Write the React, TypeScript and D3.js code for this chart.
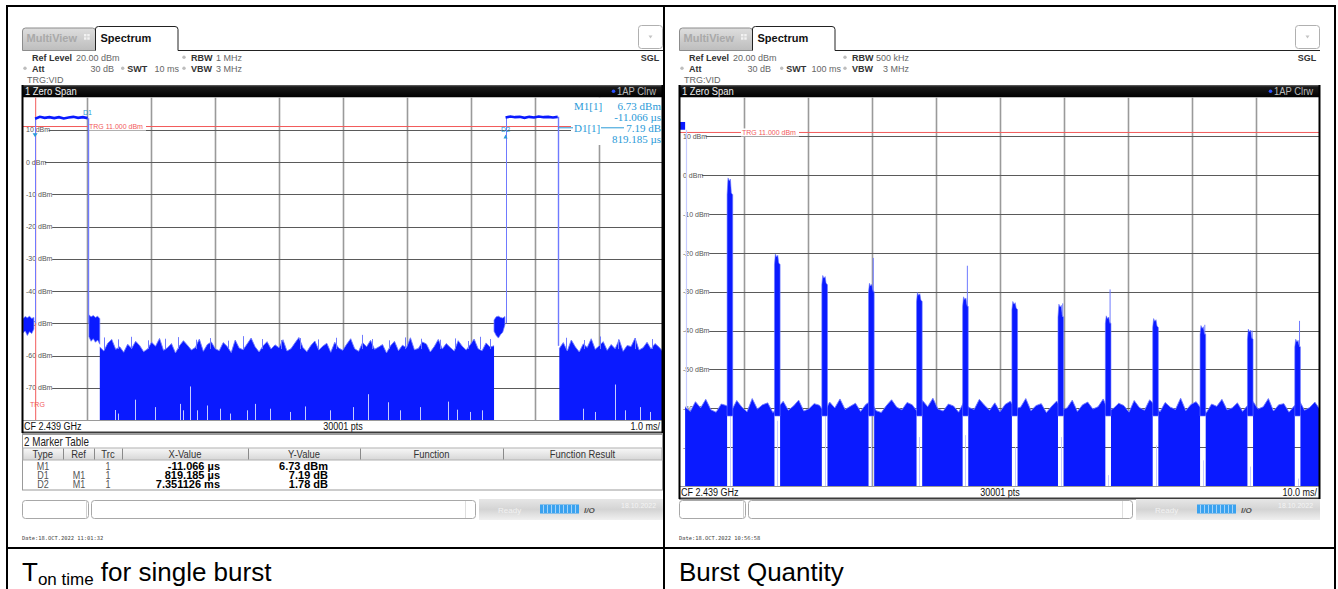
import React from 'react';
import * as d3 from 'd3';

// ---------------- shared axis data ----------------
const Y_DOMAIN: [number, number] = [-80, 20];
const Y_TICKS = [10, 0, -10, -20, -30, -40, -50, -60, -70];
const GRID_DIVS = 10;
const TRG_LEVEL = 11;

// ---------------- left screen: T on time ----------------
const L_X_DOMAIN: [number, number] = [-0.2, 9.8]; // ms, 1.0 ms/div
const L_BURST_START = [-0.011, 7.34];
const L_BURST_END = [0.81, 8.155];
const L_BURST_LEVELS = [
  [13.4, 14.0, 13.7, 13.9, 13.6, 13.9, 13.5, 13.8, 14.0, 13.7, 13.9, 13.6],
  [13.8, 14.1, 13.9, 14.0, 13.7, 14.0, 13.8, 14.1, 13.9, 14.0, 13.8, 14.0],
];
const L_RISE_FLOOR = [-50, -50];
const L_FALL_FLOOR = [-50, -57];
const L_BLOB_START = [-0.2, 0.83, 7.16];
const L_BLOB_END = [-0.03, 1.0, 7.33];
const L_BLOB_TOP = [
  [-48.6, -47.9, -48.3, -47.8, -48.5, -48.2],
  [-47.4, -48.0, -47.6, -48.2, -47.8, -48.6],
  [-49.0, -48.0, -47.8, -48.2, -48.4, -47.9],
];
const L_BLOB_BOTTOM = [
  [-53.0, -52.4, -53.8, -52.6, -53.2, -51.8],
  [-54.2, -55.6, -54.8, -55.9, -55.2, -56.5],
  [-52.5, -53.8, -54.6, -53.5, -52.8, -50.5],
];
const L_NOISE_A_SPAN = [1.0, 7.16];
const L_NOISE_A = [
  -57.4, -58.6, -56.2, -55.0, -58.1, -57.3, -59.0, -56.5, -57.8, -55.6,
  -56.9, -58.8, -58.0, -55.9, -57.1, -54.7, -58.4, -57.6, -56.3, -59.2,
  -57.0, -55.4, -56.8, -58.3, -57.5, -54.9, -58.7, -56.6, -55.8, -57.9,
  -58.5, -56.0, -57.2, -59.1, -55.2, -57.7, -58.2, -56.4, -54.6, -57.3,
  -58.9, -57.0, -55.7, -58.0, -56.7, -57.6, -55.1, -58.6, -57.9, -56.1,
  -54.4, -57.5, -58.8, -56.9, -55.5, -58.3, -57.1, -56.2, -59.0, -55.9,
  -57.7, -58.4, -56.5, -54.8, -57.9, -58.7, -56.0, -57.3, -55.3, -58.1,
  -57.4, -56.6, -59.2, -57.0, -55.6, -58.5, -56.8, -57.6, -54.5, -58.2,
  -57.8, -55.8, -56.4, -58.9, -57.2, -55.0, -58.0, -56.3, -57.5, -58.6,
  -55.4, -57.1, -58.3, -56.7, -54.9, -57.9, -58.5, -56.1, -57.4, -57.0,
];
const L_NOISE_B_SPAN = [8.18, 9.8];
const L_NOISE_B = [
  -57.8, -56.0, -58.6, -55.2, -57.3, -58.9, -56.4, -57.5, -54.8, -58.1,
  -57.0, -55.7, -58.4, -56.6, -57.9, -55.1, -58.7, -56.9, -57.2, -54.6,
  -58.3, -57.6, -55.9, -58.0, -56.3, -57.4, -58.8,
];
// light single-sample peaks rising out of the noise floor
const L_HAIR_T = [1.066, 1.284, 1.488, 1.753, 2.019, 2.222, 2.503, 2.722, 3.003, 3.238, 3.534, 3.831, 4.128, 4.409,
  4.691, 5.097, 5.253, 5.519, 5.769, 6.019, 6.316, 6.55, 6.753, 6.941, 7.097, 8.284, 8.566, 8.816, 9.097, 9.363, 9.628];
const L_HAIR_V = [-54.4, -55.0, -54.2, -55.3, -54.8, -54.3, -55.1, -54.6, -55.4, -54.0, -54.9, -55.2, -54.6, -55.0,
  -54.5, -53.6, -54.9, -55.3, -54.4, -54.8, -55.1, -54.7, -55.5, -54.2, -54.9, -54.5, -55.2, -54.1, -55.0, -54.6, -54.9];
// short gaps where the sample minimum lifts off the bottom
const L_DIP_T = [1.24, 1.28, 1.55, 1.86, 2.25, 2.3, 2.41, 2.52, 2.68, 2.88, 3.03, 3.3, 3.43, 3.66, 3.97, 4.21,
  4.6, 4.96, 5.19, 5.5, 5.69, 6.0, 6.44, 6.58, 6.78, 6.97, 8.55, 8.74, 9.05, 9.21, 9.44, 9.6];
const L_DIP_V = [-76.9, -78, -73.7, -76, -75, -77, -69.6, -77, -75.5, -76.5, -78, -77, -75, -76.5, -77.5, -75.8,
  -77, -76, -72, -74.5, -77, -76, -74.3, -76.8, -77.5, -77, -76.5, -77.5, -69, -77, -76, -77.5];
const L_MARKER_NAME = ['M1', 'D1', 'D2'];
const L_MARKER_T = [-0.011, 0.808, 7.34];
const L_MARKER_V = [6.73, 13.92, 8.51];
const L_INFO_LABEL = ['M1[1]', '', 'D1[1]', ''];
const L_INFO_VALUE = ['6.73 dBm', '-11.066 µs', '7.19 dB', '819.185 µs'];

// marker table
const MT_HEAD = ['Type', 'Ref', 'Trc', 'X-Value', 'Y-Value', 'Function', 'Function Result'];
const MT_TYPE = ['M1', 'D1', 'D2'];
const MT_REF = ['', 'M1', 'M1'];
const MT_TRC = ['1', '1', '1'];
const MT_X = ['-11.066 µs', '819.185 µs', '7.351126 ms'];
const MT_Y = ['6.73 dBm', '7.19 dB', '1.78 dB'];

// ---------------- right screen: burst quantity ----------------
const R_X_DOMAIN: [number, number] = [0, 100]; // ms, 10 ms/div
const R_FIRST_SPAN = [0, 0.8];
const R_FIRST_LEVEL = [13.7, 11.7];
const R_FIRST_FALL_T = 0.86;
const R_BURST_T = [7.8, 15.2, 22.6, 29.9, 37.4, 44.6, 52.3, 59.5, 66.9, 74.3, 81.7, 89.1, 96.5];
const R_BURST_PEAK = [-1.4, -21.0, -26.5, -28.5, -30.9, -32.0, -33.2, -33.9, -36.9, -37.6, -39.4, -40.3, -42.9];
const R_BURST_SHOULDER = [-5.0, -23.0, -28.2, -30.0, -32.5, -33.8, -34.6, -36.5, -38.2, -39.2, -41.0, -42.2, -44.2];
const R_BURST_GLINT = [null, null, null, -21.3, null, -23.3, null, -33.0, -29.4, null, -38.5, -40.0, -37.5];
const R_STRIP_LINE = [-60, -63.2, -61, -62, -67.4, -66.9, -70, -67.4, -77.2, -69.5, -73.4, -75, -78.1];
const R_NOISE_SPAN = [0.8, 100];
const R_NOISE = [
  -59.6, -60.8, -58.3, -59.9, -57.7, -60.4, -61.0, -58.9, -59.3, -60.6,
  -58.0, -59.7, -60.9, -57.5, -60.2, -59.1, -58.6, -61.1, -59.8, -58.2,
  -60.5, -59.4, -57.9, -60.7, -60.1, -58.8, -59.2, -61.0, -58.4, -59.9,
  -57.6, -60.3, -59.5, -58.7, -60.8, -59.0, -58.1, -60.6, -61.1, -59.3,
  -57.8, -59.7, -60.4, -58.5, -59.1, -60.9, -58.0, -59.6, -57.4, -60.2,
  -60.7, -58.9, -59.4, -61.0, -58.3, -59.8, -60.3, -57.7, -59.2, -60.5,
  -58.6, -60.9, -59.0, -58.2, -60.1, -59.7, -57.5, -60.6, -59.3, -58.8,
  -61.1, -59.5, -58.1, -60.4, -59.9, -57.9, -60.8, -59.1, -58.4, -60.2,
  -59.6, -57.6, -60.7, -60.0, -58.7, -59.3, -61.0, -58.0, -59.8, -60.5,
  -57.8, -59.2, -60.9, -58.5, -59.7, -60.3, -57.4, -60.6, -59.0, -58.3,
  -60.1, -61.1, -58.9, -59.5, -57.7, -60.4, -59.9, -58.6, -60.8, -59.2,
  -58.2, -60.2, -59.6, -57.5, -60.7, -59.1, -58.8, -61.0, -59.4, -58.0,
  -60.5, -59.8, -58.4, -60.3,
];

// ---------------- styling ----------------
const UI = "'Liberation Sans', Arial, sans-serif";
const SERIF = "'Liberation Serif', 'Times New Roman', serif";
const MONO = "'DejaVu Sans Mono', 'Liberation Mono', monospace";
const TRACE = '#0a1aff';
const TRACE_LIGHT = '#6f7aff';
const TRACE_PALE = '#c6cbff';
const MARKER = '#2a9ad8';
const RED = '#f25a5a';
const PLOT_L = 23;
const PLOT_R = 663;
const PLOT_T = 97.5;

const seq = (span: number[], vals: number[]) =>
  vals.map((v, i) => [span[0] + ((span[1] - span[0]) * i) / (vals.length - 1), v] as [number, number]);
const px = (v: number) => Math.round(v) + 0.5;

// condensed sans text (Arial-Narrow look made from Liberation Sans)
function NT(props: { x: number; y: number; size: number; anchor?: string; weight?: string; fill?: string; children: any }) {
  return (
    <text transform={`translate(${props.x},${props.y}) scale(0.82,1)`} fontFamily={UI} fontSize={props.size}
      textAnchor={props.anchor || 'start'} fontWeight={props.weight || 'normal'} fill={props.fill || '#111'}>
      {props.children}
    </text>
  );
}

type Sc = { x: d3.ScaleLinear<number, number>; y: d3.ScaleLinear<number, number> };

function LeftTrace({ x, y }: Sc) {
  const base = y(Y_DOMAIN[0]);
  const area = d3.area<[number, number]>().x((d) => x(d[0])).y0(base).y1((d) => y(d[1]));
  const top = d3.line<[number, number]>().x((d) => x(d[0])).y((d) => y(d[1]));
  const blobArea = d3.area<number[]>().x((d) => x(d[0])).y0((d) => y(d[2])).y1((d) => y(d[1]));
  const noise = [seq(L_NOISE_A_SPAN, L_NOISE_A), seq(L_NOISE_B_SPAN, L_NOISE_B)];
  return (
    <g>
      {noise.map((pts, i) => (
        <g key={i}>
          <path d={area(pts) || ''} fill={TRACE} />
          <path d={top(pts) || ''} fill="none" stroke={TRACE_LIGHT} strokeWidth={0.9} />
        </g>
      ))}
      {L_HAIR_T.map((t, i) => (
        <line key={i} x1={px(x(t))} x2={px(x(t))} y1={y(-58)} y2={y(L_HAIR_V[i])} stroke={TRACE_LIGHT} strokeWidth={1} />
      ))}
      {L_DIP_T.map((t, i) => (
        <line key={i} x1={px(x(t))} x2={px(x(t))} y1={base} y2={y(L_DIP_V[i])} stroke={TRACE_PALE} strokeWidth={1} />
      ))}
      {L_BLOB_START.map((s, i) => {
        const n = L_BLOB_TOP[i].length;
        const pts = L_BLOB_TOP[i].map((v, j) => [s + ((L_BLOB_END[i] - s) * j) / (n - 1), v, L_BLOB_BOTTOM[i][j]]);
        return <path key={i} d={blobArea(pts) || ''} fill={TRACE} stroke={TRACE_LIGHT} strokeWidth={0.7} />;
      })}
      {L_BURST_START.map((s, i) => {
        const e = L_BURST_END[i];
        const lv = L_BURST_LEVELS[i];
        return (
          <g key={i}>
            <line x1={px(x(s))} x2={px(x(s))} y1={y(L_RISE_FLOOR[i])} y2={y(lv[0])} stroke={TRACE_LIGHT} strokeWidth={1} />
            <line x1={px(x(e))} x2={px(x(e))} y1={y(lv[lv.length - 1])} y2={y(L_FALL_FLOOR[i])} stroke={TRACE_LIGHT} strokeWidth={1.4} />
            <path d={top(seq([s, e], lv)) || ''} fill="none" stroke={TRACE} strokeWidth={2.6} />
          </g>
        );
      })}
    </g>
  );
}

function LeftOverlay({ x, y }: Sc) {
  return (
    <g>
      {L_MARKER_NAME.map((m, i) => {
        const mx = x(L_MARKER_T[i]);
        const my = y(L_MARKER_V[i]);
        return (
          <g key={m} fill={MARKER}>
            {i === 0 && <path d={`M${mx - 2.5},${my - 7} L${mx + 2.5},${my - 7} L${mx},${my - 3} Z`} />}
            {i === 2 && <path d={`M${mx - 2},${my + 4} L${mx + 2},${my + 4} L${mx},${my} Z`} />}
            {i > 0 && (
              <text x={mx} y={my - 2.5} fontFamily={UI} fontSize={7} textAnchor="middle">{m}</text>
            )}
          </g>
        );
      })}
      <rect x={571} y={98} width={92} height={47} fill="#fff" />
      <line x1={558} x2={625} y1={127.8} y2={127.8} stroke={MARKER} strokeWidth={1} />
      <rect x={573} y={122} width={28} height={11} fill="#fff" />
      <rect x={624} y={122} width={39} height={11} fill="#fff" />
      {L_INFO_VALUE.map((v, i) => (
        <g key={i} fontFamily={SERIF} fontSize={11} fill={MARKER}>
          {L_INFO_LABEL[i] && <text x={574} y={109.5 + i * 11.3}>{L_INFO_LABEL[i]}</text>}
          <text x={661} y={109.5 + i * 11.3} textAnchor="end">{v}</text>
        </g>
      ))}
    </g>
  );
}

function RightTrace({ x, y }: Sc) {
  const base = y(Y_DOMAIN[0]);
  const pts = seq(R_NOISE_SPAN, R_NOISE);
  const area = d3.area<[number, number]>().x((d) => x(d[0])).y0(base).y1((d) => y(d[1]));
  const top = d3.line<[number, number]>().x((d) => x(d[0])).y((d) => y(d[1]));
  const poly = d3.line<number[]>().x((d) => x(d[0])).y((d) => y(d[1]));
  const half = 0.44;
  return (
    <g>
      <mask id="rStrips" maskUnits="userSpaceOnUse" x={0} y={0} width={700} height={600}>
        <rect x={0} y={0} width={700} height={600} fill="#fff" />
        {R_BURST_T.map((t, i) => (
          <rect key={i} x={x(t - half)} y={y(-61.8)} width={x(t + half) - x(t - half)} height={base - y(-61.8) + 2} fill="#000" />
        ))}
      </mask>
      <g mask="url(#rStrips)">
        <path d={area(pts) || ''} fill={TRACE} />
        <path d={top(pts) || ''} fill="none" stroke={TRACE_LIGHT} strokeWidth={0.9} />
      </g>
      {R_BURST_T.map((t, i) => (
        <line key={i} x1={px(x(t))} x2={px(x(t))} y1={base} y2={y(R_STRIP_LINE[i])} stroke={TRACE_PALE} strokeWidth={1} />
      ))}
      {R_BURST_T.map((t, i) => {
        const pk = R_BURST_PEAK[i];
        const sh = R_BURST_SHOULDER[i];
        const shape = [
          [t - half, -62], [t - half, sh], [t - 0.3, pk + 0.7], [t - 0.1, pk],
          [t + 0.08, pk + 0.4], [t + 0.22, sh + 0.5], [t + 0.32, sh + 0.2], [t + half, sh], [t + half, -62],
        ];
        const g = R_BURST_GLINT[i];
        return (
          <g key={i}>
            <path d={(poly(shape) || '') + 'Z'} fill={TRACE} stroke={TRACE_LIGHT} strokeWidth={0.6} />
            {g !== null && (
              <line x1={x(t + 0.3)} x2={x(t + 0.3)} y1={y(sh)} y2={y(g as number)} stroke={TRACE_LIGHT} strokeWidth={1} />
            )}
          </g>
        );
      })}
      <rect x={x(R_FIRST_SPAN[0])} y={y(R_FIRST_LEVEL[0])} width={x(R_FIRST_SPAN[1]) - x(R_FIRST_SPAN[0])}
        height={y(R_FIRST_LEVEL[1]) - y(R_FIRST_LEVEL[0])} fill={TRACE} />
      <line x1={px(x(R_FIRST_FALL_T))} x2={px(x(R_FIRST_FALL_T))} y1={y(R_FIRST_LEVEL[1])} y2={y(-60)} stroke={TRACE_PALE} strokeWidth={1.2} />
    </g>
  );
}

type PanelProps = {
  dx: number;
  id: string;
  plotBottom: number;
  xDomain: [number, number];
  swt: string;
  swtDotX: number;
  rbw: string;
  vbw: string;
  bwDotX: number;
  bwValX: number;
  bwAnchor: string;
  scaleText: string;
  dateText: string;
  trgLabelX: number;
  trgVertical: number | null;
  Trace: (p: Sc) => any;
  Overlay?: (p: Sc) => any;
  table: boolean;
};

function Panel(p: PanelProps) {
  const x = d3.scaleLinear().domain(p.xDomain).range([PLOT_L, PLOT_R]);
  const y = d3.scaleLinear().domain(Y_DOMAIN).range([p.plotBottom, PLOT_T]);
  const xGrid = d3.range(1, GRID_DIVS).map((i) => p.xDomain[0] + ((p.xDomain[1] - p.xDomain[0]) * i) / GRID_DIVS);
  const pb = p.plotBottom;
  const Trace = p.Trace;
  const Overlay = p.Overlay;
  const colX = [22.5, 63, 94, 122, 248, 360, 503, 662];
  return (
    <g transform={`translate(${p.dx},0)`}>
      {/* tabs */}
      <path d="M22.5,50.5 V31 Q22.5,28 25.5,28 H92.5 Q95.5,28 95.5,31 V50.5 Z" fill="url(#tabGray)" stroke="#8c8c8c" />
      <text x={26.5} y={42} fontFamily={UI} fontSize={11} fontWeight="bold" fill="#a9a9a9">MultiView</text>
      <g fill="#f2f2f2">
        <rect x={84} y={34} width={2.4} height={2.4} />
        <rect x={87.3} y={34} width={2.4} height={2.4} />
        <rect x={84} y={37.3} width={2.4} height={2.4} />
        <rect x={87.3} y={37.3} width={2.4} height={2.4} />
      </g>
      <path d="M95.5,50.5 V29 Q95.5,26.5 98.5,26.5 H175 Q178,26.5 178,29.5 V50.5" fill="#fff" stroke="#222" />
      <text x={100.5} y={42} fontFamily={UI} fontSize={11} fontWeight="bold" fill="#111">Spectrum</text>
      <line x1={178} y1={50.5} x2={663} y2={50.5} stroke="#222" />
      <rect x={638.5} y={25.5} width={24} height={23} rx={3} fill="#fff" stroke="#b0b0b0" />
      <path d="M648.5,35.5 L652.5,35.5 L650.5,38.5 Z" fill="#c4c4c4" />

      {/* setting lines */}
      <g fontFamily={UI} fontSize={9}>
        <text x={32} y={60.5} fontWeight="bold" fill="#333">Ref Level</text>
        <text x={76} y={60.5} fill="#666">20.00 dBm</text>
        <circle cx={25} cy={68.3} r={1.7} fill="#bdbdbd" />
        <text x={32} y={71.5} fontWeight="bold" fill="#333">Att</text>
        <text x={114} y={71.5} fill="#666" textAnchor="end">30 dB</text>
        <circle cx={p.swtDotX} cy={68.3} r={1.7} fill="#bdbdbd" />
        <text x={p.swtDotX + 4.5} y={71.5} fontWeight="bold" fill="#333">SWT</text>
        <text x={154.5} y={71.5} fill="#666">{p.swt}</text>
        <circle cx={p.bwDotX} cy={57.3} r={1.7} fill="#bdbdbd" />
        <text x={p.bwDotX + 7} y={60.5} fontWeight="bold" fill="#333">RBW</text>
        <text x={p.bwValX} y={60.5} fill="#666" textAnchor={p.bwAnchor}>{p.rbw}</text>
        <circle cx={p.bwDotX} cy={68.3} r={1.7} fill="#bdbdbd" />
        <text x={p.bwDotX + 7} y={71.5} fontWeight="bold" fill="#333">VBW</text>
        <text x={p.bwValX} y={71.5} fill="#666" textAnchor={p.bwAnchor}>{p.vbw}</text>
        <text x={27} y={82.5} fill="#666">TRG:VID</text>
        <text x={650} y={61} fontWeight="bold" fill="#333" textAnchor="middle">SGL</text>
      </g>

      {/* title bar */}
      <rect x={22} y={85} width={641} height={12.5} fill="url(#barBlack)" />
      <NT x={25} y={95.3} size={11.5} fill="#f0f0f0">1 Zero Span</NT>
      <circle cx={613.5} cy={91.2} r={1.8} fill="#2a50ff" />
      <NT x={617} y={94.8} size={11.5} fill="#bcbcbc">1AP Clrw</NT>

      {/* plot area */}
      <rect x={PLOT_L} y={PLOT_T} width={PLOT_R - PLOT_L} height={pb - PLOT_T} fill="#fff" />
      {xGrid.map((g, i) => (
        <line key={i} x1={px(x(g))} x2={px(x(g))} y1={PLOT_T} y2={pb} stroke="#9a9a9a" strokeWidth={1.6} />
      ))}
      {Y_TICKS.map((v) => (
        <line key={v} x1={PLOT_L} x2={PLOT_R} y1={px(y(v))} y2={px(y(v))} stroke="#5a5a5a" strokeWidth={1} />
      ))}
      {Y_TICKS.map((v) => {
        const label = `${v} dBm`;
        const w = label.length * 3.6 + 1;
        return (
          <g key={v}>
            <rect x={PLOT_L} y={y(v) - 4} width={w + 3} height={8} fill="#fff" />
            <text x={26} y={y(v) + 2.6} fontFamily={UI} fontSize={7} fill="#555">{label}</text>
          </g>
        );
      })}
      <line x1={PLOT_L} x2={PLOT_R} y1={y(TRG_LEVEL)} y2={y(TRG_LEVEL)} stroke={RED} strokeWidth={1} />
      <rect x={p.trgLabelX - 1} y={y(TRG_LEVEL) - 4} width={58} height={8} fill="#fff" />
      <text x={p.trgLabelX} y={y(TRG_LEVEL) + 2.6} fontFamily={UI} fontSize={7} fill={RED}>TRG  11.000 dBm</text>
      {p.trgVertical !== null && (
        <g>
          <line x1={x(p.trgVertical) + 0.6} x2={x(p.trgVertical) + 0.6} y1={PLOT_T} y2={pb} stroke={RED} strokeWidth={1} />
          <text x={x(p.trgVertical) - 5} y={pb - 13} fontFamily={UI} fontSize={7} fill={RED}>TRG</text>
        </g>
      )}
      <clipPath id={`clip-${p.id}`}>
        <rect x={PLOT_L} y={PLOT_T} width={PLOT_R - PLOT_L} height={pb - PLOT_T} />
      </clipPath>
      <g clipPath={`url(#clip-${p.id})`}>
        <Trace x={x} y={y} />
        {Overlay && <Overlay x={x} y={y} />}
      </g>

      {/* bottom info bar */}
      <line x1={PLOT_L} x2={PLOT_R} y1={pb + 0.5} y2={pb + 0.5} stroke="#9a9a9a" />
      <NT x={24} y={pb + 10} size={11}>CF 2.439 GHz</NT>
      <NT x={343} y={pb + 10} size={11} anchor="middle">30001 pts</NT>
      <NT x={660} y={pb + 10} size={11} anchor="end">{p.scaleText}</NT>
      <line x1={22} x2={663} y1={pb + 12.5} y2={pb + 12.5} stroke="#3a3a3a" strokeWidth={2} />
      <line x1={22.5} x2={22.5} y1={85} y2={pb + 13} stroke="#000" strokeWidth={2} />
      <line x1={662.5} x2={662.5} y1={85} y2={pb + 13} stroke="#000" strokeWidth={2} />

      {/* marker table */}
      {p.table && (
        <g>
          <rect x={22.5} y={434.5} width={640} height={55.5} fill="#fff" stroke="#9a9a9a" />
          <NT x={24} y={445.5} size={12} fill="#222">2 Marker Table</NT>
          <rect x={23} y={448} width={639} height={12} fill="url(#hdrGray)" stroke="#b0b0b0" />
          {colX.slice(1, 7).map((c) => (
            <line key={c} x1={c + 0.5} x2={c + 0.5} y1={448.5} y2={459.5} stroke="#8a8a8a" />
          ))}
          {MT_HEAD.map((h, i) => (
            <NT key={h} x={(colX[i] + colX[i + 1]) / 2} y={457.6} size={11.5} fill="#333" anchor="middle">{h}</NT>
          ))}
          {MT_TYPE.map((t, i) => (
            <g key={t}>
              <NT x={43} y={469.5 + i * 9.4} size={11} fill="#555" anchor="middle">{t}</NT>
              <NT x={79} y={469.5 + i * 9.4} size={11} fill="#555" anchor="middle">{MT_REF[i]}</NT>
              <NT x={108} y={469.5 + i * 9.4} size={11} fill="#555" anchor="middle">{MT_TRC[i]}</NT>
              <text x={220} y={469.5 + i * 9.4} fontFamily={UI} fontSize={11} fontWeight="bold" fill="#000" textAnchor="end">{MT_X[i]}</text>
              <text x={328} y={469.5 + i * 9.4} fontFamily={UI} fontSize={11} fontWeight="bold" fill="#000" textAnchor="end">{MT_Y[i]}</text>
            </g>
          ))}
        </g>
      )}

      {/* status bar */}
      <rect x={22.5} y={500.5} width={66} height={18} rx={3} fill="#fff" stroke="#a8a8a8" />
      <line x1={86.5} x2={86.5} y1={501} y2={518} stroke="#d0d0d0" />
      <rect x={91.5} y={500.5} width={384} height={18} rx={3} fill="#fff" stroke="#a8a8a8" />
      <line x1={465.5} x2={465.5} y1={501} y2={518} stroke="#dedede" />
      <rect x={479} y={499} width={184} height={21} fill="url(#statusGray)" />
      <text x={498} y={513} fontFamily={UI} fontSize={8} fill="#f2f2f2">Ready</text>
      <rect x={540} y={504.5} width={39} height={9} fill="#3aa2ef" />
      {d3.range(0, 9).map((i) => (
        <line key={i} x1={543.5 + i * 4} x2={543.5 + i * 4} y1={505} y2={513} stroke="#bfe0fb" strokeWidth={0.8} />
      ))}
      <text x={584} y={512.5} fontFamily={UI} fontSize={8} fontWeight="bold" fontStyle="italic" fill="#555">I/O</text>
      <text x={621} y={508} fontFamily={UI} fontSize={7} fill="#f4f4f4">18.10.2022</text>

      <text x={22} y={540} fontFamily={MONO} fontSize={5.4} fill="#444">{p.dateText}</text>
    </g>
  );
}

export default function App() {
  return (
    <svg width={1338} height={589} viewBox="0 0 1338 589" style={{ position: 'absolute', left: 0, top: 0, background: '#fff' }}>
      <defs>
        <linearGradient id="tabGray" x1="0" y1="0" x2="0" y2="1">
          <stop offset="0" stopColor="#dedede" />
          <stop offset="1" stopColor="#bdbdbd" />
        </linearGradient>
        <linearGradient id="barBlack" x1="0" y1="0" x2="0" y2="1">
          <stop offset="0" stopColor="#6a6a6a" />
          <stop offset="0.15" stopColor="#1a1a1a" />
          <stop offset="1" stopColor="#000" />
        </linearGradient>
        <linearGradient id="hdrGray" x1="0" y1="0" x2="0" y2="1">
          <stop offset="0" stopColor="#f8f8f8" />
          <stop offset="1" stopColor="#d6d6d6" />
        </linearGradient>
        <linearGradient id="statusGray" x1="0" y1="0" x2="0" y2="1">
          <stop offset="0" stopColor="#e6e6e6" />
          <stop offset="0.5" stopColor="#d4d4d4" />
          <stop offset="1" stopColor="#f0f0f0" />
        </linearGradient>
      </defs>
      <rect width={1338} height={589} fill="#fff" />
      <Panel dx={0} id="l" plotBottom={420} xDomain={L_X_DOMAIN} swt="10 ms" swtDotX={122.7} rbw="1 MHz" vbw="3 MHz"
        bwDotX={184} bwValX={216} bwAnchor="start" scaleText="1.0 ms/" dateText="Date:18.OCT.2022  11:01:32" trgLabelX={89}
        trgVertical={-0.011} Trace={LeftTrace} Overlay={LeftOverlay} table={true} />
      <Panel dx={657} id="r" plotBottom={486} xDomain={R_X_DOMAIN} swt="100 ms" swtDotX={124.7} rbw="500 kHz" vbw="3 MHz"
        bwDotX={188} bwValX={252} bwAnchor="end" scaleText="10.0 ms/" dateText="Date:18.OCT.2022  10:56:58" trgLabelX={85}
        trgVertical={null} Trace={RightTrace} table={false} />

      {/* outer table */}
      <g stroke="#000" strokeWidth={2}>
        <line x1={6} x2={1336} y1={6} y2={6} />
        <line x1={7} x2={7} y1={5} y2={589} />
        <line x1={664} x2={664} y1={5} y2={589} />
        <line x1={1335} x2={1335} y1={5} y2={589} />
        <line x1={6} x2={1336} y1={548} y2={548} />
      </g>
      <text x={22} y={581} fontFamily={UI} fontSize={26} fill="#000">
        <tspan>T</tspan>
        <tspan fontSize={17} dy={4}>on time</tspan>
        <tspan fontSize={26} dy={-4}> for single burst</tspan>
      </text>
      <text x={679} y={581} fontFamily={UI} fontSize={26} fill="#000">Burst Quantity</text>
    </svg>
  );
}
